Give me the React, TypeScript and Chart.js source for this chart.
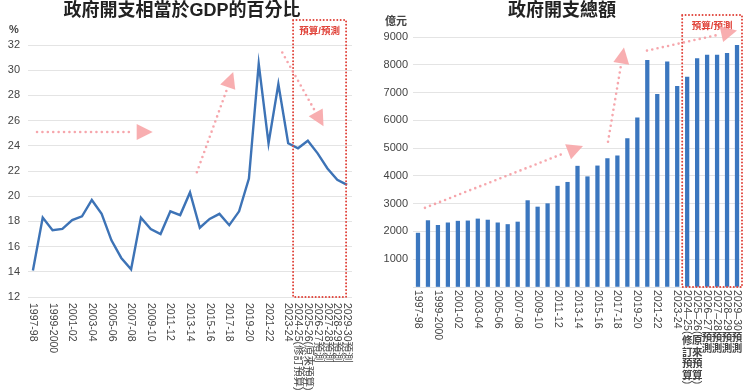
import React, { useEffect, useRef } from "react";
import { Chart, registerables } from "chart.js";

Chart.register(...registerables);

// ---------- data ----------
const categories = [
  "1997-98", "1998-99", "1999-2000", "2000-01", "2001-02", "2002-03", "2003-04",
  "2004-05", "2005-06", "2006-07", "2007-08", "2008-09", "2009-10", "2010-11",
  "2011-12", "2012-13", "2013-14", "2014-15", "2015-16", "2016-17", "2017-18",
  "2018-19", "2019-20", "2020-21", "2021-22", "2022-23", "2023-24",
  "2024-25(修訂預算)", "2025-26(原來預算)", "2026-27預測", "2027-28預測",
  "2028-29預測", "2029-30預測",
];

// 政府開支相當於GDP的百分比 (%)
const gdpShare = [
  14.1, 18.3, 17.3, 17.4, 18.1, 18.4, 19.7, 18.6, 16.5, 15.1, 14.2, 18.3, 17.4,
  17.0, 18.8, 18.5, 20.3, 17.5, 18.2, 18.6, 17.7, 18.8, 21.4, 30.5, 24.2, 28.9,
  24.2, 23.8, 24.4, 23.4, 22.2, 21.3, 20.9,
];

// 政府開支總額 (億元)
const spending = [
  1940, 2390, 2220, 2310, 2370, 2380, 2450, 2410, 2310, 2250, 2340, 3110, 2880,
  3000, 3630, 3770, 4350, 3970, 4360, 4620, 4720, 5340, 6090, 8160, 6940, 8110,
  7220, 7560, 8220, 8350, 8350, 8410, 8700,
];

const pctTicks = [12, 14, 16, 18, 20, 22, 24, 26, 28, 30, 32];
const amountTicks = [0, 1000, 2000, 3000, 4000, 5000, 6000, 7000, 8000, 9000];

const leftTitle = "政府開支相當於GDP的百分比";
const rightTitle = "政府開支總額";
const leftUnit = "%";
const rightUnit = "億元";
const boxLabel = "預算/預測";
const firstForecastIndex = 27;

// arrows in data space: [fromIndex, fromValue, toIndex, toValue]
const leftArrows = [
  [0.42, 25.1, 12.2, 25.1],
  [16.7, 21.9, 20.4, 29.85],
  [25.4, 31.4, 29.6, 25.55],
];
const rightArrows = [
  [0.7, 2850, 16.55, 5080],
  [19.06, 5230, 20.66, 8620],
  [22.97, 8510, 32.0, 9230],
];

const barCategories = categories.map((c, i) =>
  i >= firstForecastIndex ? c.replace("-", "–") : c
);

// ---------- styles ----------
const LATIN = '"Liberation Sans", Arial, "Noto Sans CJK TC", sans-serif';
const TEXT = "#444";
const GRID = "#e4e4e4";
const BLUE_LINE = "#3d73b6";
const BLUE_BAR = "#3b77bf";
const PINK = "rgba(244,150,158,0.85)";
const PINK_HEAD = "rgba(248,170,172,0.95)";
const RED = "#e0433a";

const showLabel = (i: number) => i >= firstForecastIndex || i % 2 === 0;
const isCJK = (ch: string) => /[\u3000-\u9fff\uff00-\uffef]/.test(ch);

function drawArrow(ctx: CanvasRenderingContext2D, x1: number, y1: number, x2: number, y2: number) {
  const dx = x2 - x1;
  const dy = y2 - y1;
  const len = Math.hypot(dx, dy);
  const ux = dx / len;
  const uy = dy / len;
  const headLen = 16;
  const headHalf = 8;
  const bx = x2 - ux * headLen;
  const by = y2 - uy * headLen;
  ctx.save();
  ctx.strokeStyle = PINK;
  ctx.lineWidth = 2.6;
  ctx.lineCap = "round";
  ctx.setLineDash([0, 5.4]);
  ctx.beginPath();
  ctx.moveTo(x1, y1);
  ctx.lineTo(bx - ux * 3, by - uy * 3);
  ctx.stroke();
  ctx.setLineDash([]);
  ctx.fillStyle = PINK_HEAD;
  ctx.beginPath();
  ctx.moveTo(x2, y2);
  ctx.lineTo(bx - uy * headHalf, by + ux * headHalf);
  ctx.lineTo(bx + uy * headHalf, by - ux * headHalf);
  ctx.closePath();
  ctx.fill();
  ctx.restore();
}

function drawBox(ctx: CanvasRenderingContext2D, l: number, t: number, r: number, b: number) {
  ctx.save();
  ctx.strokeStyle = RED;
  ctx.lineWidth = 2;
  ctx.lineCap = "round";
  ctx.setLineDash([0, 3.4]);
  ctx.strokeRect(l, t, r - l, b - t);
  ctx.restore();
  ctx.save();
  ctx.fillStyle = RED;
  ctx.font = `bold 9.5px ${LATIN}`;
  ctx.textAlign = "center";
  ctx.textBaseline = "middle";
  ctx.fillText(boxLabel, (l + r) / 2, t + 11);
  ctx.restore();
}

function drawTitle(ctx: CanvasRenderingContext2D, text: string, x: number, y: number) {
  ctx.save();
  ctx.fillStyle = "#222";
  ctx.font = `bold 18px ${LATIN}`;
  ctx.textAlign = "center";
  ctx.textBaseline = "middle";
  ctx.fillText(text, x, y);
  ctx.restore();
}

function drawUnit(ctx: CanvasRenderingContext2D, text: string, x: number, y: number) {
  ctx.save();
  ctx.fillStyle = TEXT;
  ctx.font = `bold 11px ${LATIN}`;
  ctx.textAlign = "center";
  ctx.textBaseline = "middle";
  ctx.fillText(text, x, y);
  ctx.restore();
}

// rotated text (clockwise), optionally with upright CJK characters
function drawVerticalLabel(
  ctx: CanvasRenderingContext2D,
  text: string,
  x: number,
  y0: number,
  uprightCJK: boolean
) {
  ctx.save();
  ctx.fillStyle = TEXT;
  ctx.font = `10.5px ${LATIN}`;
  ctx.textBaseline = "middle";
  if (!uprightCJK) {
    ctx.translate(x, y0);
    ctx.rotate(Math.PI / 2);
    ctx.textAlign = "left";
    ctx.fillText(text, 0, 0);
    ctx.restore();
    return;
  }
  let y = y0;
  let run = "";
  const flush = () => {
    if (!run) return;
    ctx.save();
    ctx.translate(x, y);
    ctx.rotate(Math.PI / 2);
    ctx.textAlign = "left";
    ctx.fillText(run, 0, 0);
    ctx.restore();
    y += ctx.measureText(run).width;
    run = "";
  };
  for (const ch of text) {
    if (isCJK(ch)) {
      flush();
      ctx.save();
      ctx.font = `bold 10.5px ${LATIN}`;
      ctx.textAlign = "center";
      ctx.fillText(ch, x, y + 7);
      ctx.restore();
      y += 11.6;
    } else {
      run += ch;
    }
  }
  flush();
  ctx.restore();
}

const leftDeco = {
  id: "leftDeco",
  afterDraw(chart: any) {
    const { ctx, chartArea, scales } = chart;
    const x = scales.x;
    const y = scales.y;
    drawTitle(ctx, leftTitle, 182, 11);
    drawUnit(ctx, leftUnit, 14, 30);
    categories.forEach((c, i) => {
      if (showLabel(i)) drawVerticalLabel(ctx, c, x.getPixelForValue(i), chartArea.bottom + 6, false);
    });
    const l = (x.getPixelForValue(firstForecastIndex - 1) + x.getPixelForValue(firstForecastIndex)) / 2;
    const r = x.getPixelForValue(categories.length - 1) - 1;
    drawBox(ctx, l, chartArea.top - 25, r, chartArea.bottom);
    leftArrows.forEach(([i1, v1, i2, v2]) =>
      drawArrow(ctx, x.getPixelForValue(i1), y.getPixelForValue(v1), x.getPixelForValue(i2), y.getPixelForValue(v2))
    );
  },
};

const rightDeco = {
  id: "rightDeco",
  afterDraw(chart: any) {
    const { ctx, chartArea, scales } = chart;
    const x = scales.x;
    const y = scales.y;
    drawTitle(ctx, rightTitle, 187, 11);
    drawUnit(ctx, rightUnit, 21, 22);
    barCategories.forEach((c, i) => {
      if (showLabel(i)) drawVerticalLabel(ctx, c, x.getPixelForValue(i), chartArea.bottom + 3, true);
    });
    const l = (x.getPixelForValue(firstForecastIndex - 1) + x.getPixelForValue(firstForecastIndex)) / 2;
    const r = chartArea.right;
    drawBox(ctx, l, chartArea.top - 22, r, chartArea.bottom);
    rightArrows.forEach(([i1, v1, i2, v2]) =>
      drawArrow(ctx, x.getPixelForValue(i1), y.getPixelForValue(v1), x.getPixelForValue(i2), y.getPixelForValue(v2))
    );
  },
};

function LeftChart() {
  const ref = useRef<HTMLCanvasElement | null>(null);
  useEffect(() => {
    if (!ref.current) return;
    const chart = new Chart(ref.current, {
      type: "line",
      data: {
        labels: categories,
        datasets: [
          {
            data: gdpShare,
            borderColor: BLUE_LINE,
            borderWidth: 2.4,
            pointRadius: 0,
            tension: 0,
            fill: false,
          },
        ],
      },
      options: {
        responsive: false,
        animation: false,
        layout: { padding: { top: 45, right: 23, left: 0, bottom: 0 } },
        plugins: { legend: { display: false }, title: { display: false }, tooltip: { enabled: false } },
        scales: {
          x: {
            offset: true,
            grid: { display: false },
            border: { display: false },
            ticks: { display: false },
            afterFit: (s: any) => {
              s.height = 93;
            },
          },
          y: {
            min: 12,
            max: 32,
            afterBuildTicks: (s: any) => {
              s.ticks = pctTicks.map((v) => ({ value: v }));
            },
            grid: { color: GRID, lineWidth: 1, drawTicks: false },
            border: { display: false },
            ticks: { color: TEXT, font: { family: LATIN, size: 11 }, padding: 8 },
            afterFit: (s: any) => {
              s.width = 28;
            },
          },
        },
      },
      plugins: [leftDeco],
    } as any);
    return () => chart.destroy();
  }, []);
  return <canvas ref={ref} width={375} height={390} style={{ display: "block", width: 375, height: 390 }} />;
}

function RightChart() {
  const ref = useRef<HTMLCanvasElement | null>(null);
  useEffect(() => {
    if (!ref.current) return;
    const chart = new Chart(ref.current, {
      type: "bar",
      data: {
        labels: barCategories,
        datasets: [
          {
            data: spending,
            backgroundColor: BLUE_BAR,
            borderWidth: 0,
            barThickness: 3.6,
          },
        ],
      },
      options: {
        responsive: false,
        animation: false,
        layout: { padding: { top: 37, right: 8, left: 0, bottom: 0 } },
        plugins: { legend: { display: false }, title: { display: false }, tooltip: { enabled: false } },
        scales: {
          x: {
            offset: true,
            grid: { display: false },
            border: { display: false },
            ticks: { display: false },
            afterFit: (s: any) => {
              s.height = 103;
            },
          },
          y: {
            min: 0,
            max: 9000,
            afterBuildTicks: (s: any) => {
              s.ticks = amountTicks.map((v) => ({ value: v }));
            },
            grid: { color: GRID, lineWidth: 1, drawTicks: false },
            border: { display: false },
            ticks: {
              color: TEXT,
              font: { family: LATIN, size: 11 },
              padding: 5,
              callback: (v: any) => (v === 0 ? "" : String(v)),
            },
            afterFit: (s: any) => {
              s.width = 38;
            },
          },
        },
      },
      plugins: [rightDeco],
    } as any);
    return () => chart.destroy();
  }, []);
  return <canvas ref={ref} width={375} height={390} style={{ display: "block", width: 375, height: 390 }} />;
}

export default function App() {
  return (
    <div
      style={{
        position: "fixed",
        left: 0,
        top: 0,
        width: 750,
        height: 390,
        background: "#fff",
        display: "flex",
      }}
    >
      <LeftChart />
      <RightChart />
    </div>
  );
}
